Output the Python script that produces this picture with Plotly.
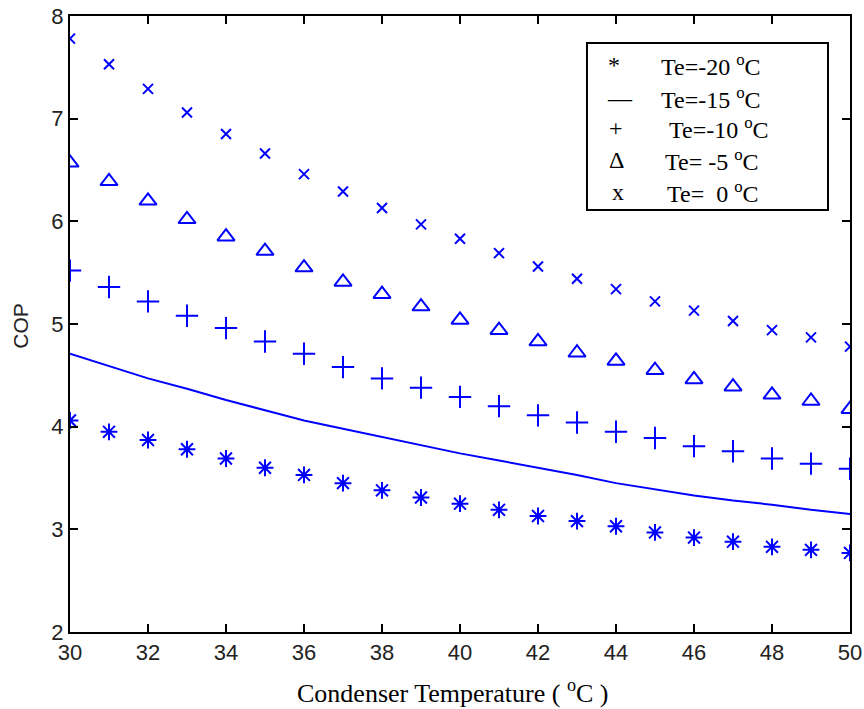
import plotly.graph_objects as go

# Condenser temperature (x)
tc = list(range(30, 51))

# COP per evaporator temperature
cop_m20 = [4.06, 3.95, 3.87, 3.78, 3.69, 3.60, 3.53, 3.45, 3.38, 3.31, 3.25,
           3.19, 3.13, 3.08, 3.03, 2.97, 2.92, 2.88, 2.83, 2.80, 2.77]
cop_m15 = [4.71, 4.59, 4.47, 4.37, 4.26, 4.16, 4.06, 3.98, 3.90, 3.82, 3.74,
           3.67, 3.60, 3.53, 3.45, 3.39, 3.33, 3.28, 3.24, 3.19, 3.15]
cop_m10 = [5.52, 5.36, 5.22, 5.08, 4.96, 4.83, 4.71, 4.58, 4.47, 4.38, 4.29,
           4.20, 4.11, 4.04, 3.95, 3.89, 3.81, 3.76, 3.69, 3.64, 3.59]
cop_m5 = [6.57, 6.39, 6.20, 6.02, 5.85, 5.71, 5.55, 5.41, 5.29, 5.17, 5.04,
          4.94, 4.83, 4.72, 4.64, 4.55, 4.46, 4.39, 4.31, 4.25, 4.17]
cop_0 = [7.78, 7.53, 7.29, 7.06, 6.85, 6.66, 6.46, 6.29, 6.13, 5.97, 5.83,
         5.69, 5.56, 5.44, 5.34, 5.22, 5.13, 5.03, 4.94, 4.87, 4.78]

legend_symbols = ["*", "\u2014", "+", "\u0394", "x"]
legend_labels = ["Te=-20 <sup>o</sup>C", "Te=-15 <sup>o</sup>C", "Te=-10 <sup>o</sup>C",
                 "Te= -5 <sup>o</sup>C", "Te=\u00a0 0 <sup>o</sup>C"]

x_ticks = list(range(30, 51, 2))
y_ticks = list(range(2, 9))

BLUE = "#0000FF"
fig = go.Figure()
fig.add_trace(go.Scatter(x=tc, y=cop_m20, mode="markers",
                         marker=dict(symbol="asterisk-open", size=14, color=BLUE,
                                     line=dict(color=BLUE, width=2))))
fig.add_trace(go.Scatter(x=tc, y=cop_m15, mode="lines", line=dict(color=BLUE, width=2)))
fig.add_trace(go.Scatter(x=tc, y=cop_m10, mode="markers",
                         marker=dict(symbol="cross-thin-open", size=16, color=BLUE,
                                     line=dict(color=BLUE, width=2))))
fig.add_trace(go.Scatter(x=tc, y=cop_m5, mode="markers",
                         marker=dict(symbol="triangle-up-open", size=15, color=BLUE,
                                     line=dict(color=BLUE, width=2))))
fig.add_trace(go.Scatter(x=tc, y=cop_0, mode="markers",
                         marker=dict(symbol="x-thin-open", size=10, color=BLUE,
                                     line=dict(color=BLUE, width=2))))

axis_common = dict(showline=True, linecolor="black", linewidth=2, mirror="ticks",
                   ticks="inside", ticklen=8, tickwidth=2, tickcolor="black",
                   showgrid=False, zeroline=False, automargin=False,
                   ticklabeloverflow="allow",
                   tickfont=dict(family="Liberation Sans, Arial", size=22, color="#222222"))

fig.update_layout(
    width=864, height=709,
    margin=dict(l=70, r=14, t=16, b=77),
    paper_bgcolor="white", plot_bgcolor="white",
    showlegend=False,
    xaxis=dict(range=[30, 50], tickvals=x_ticks, **axis_common),
    yaxis=dict(range=[2, 8], tickvals=y_ticks, **axis_common),
)

# Axis titles
fig.add_annotation(xref="paper", yref="paper", x=0.491, y=-0.096, yanchor="middle",
                   text="Condenser Temperature ( <sup>o</sup>C )", showarrow=False,
                   font=dict(family="Liberation Serif, Times New Roman", size=26, color="black"))
fig.add_annotation(xref="paper", yref="paper", x=-0.063, y=0.497, textangle=-90,
                   xanchor="center", yanchor="middle", text="COP", showarrow=False,
                   font=dict(family="Liberation Sans, Arial", size=21, color="#222222"))

# Text legend box
fig.add_shape(type="rect", xref="paper", yref="paper", x0=0.6628, x1=0.9718, y0=0.685, y1=0.956,
              line=dict(color="black", width=2), fillcolor="white", layer="above")
row_y = [0.920, 0.867, 0.818, 0.766, 0.714]
sym_x = [0.697, 0.705, 0.700, 0.700, 0.703]
lab_x = [0.755, 0.755, 0.765, 0.760, 0.763]
for i in range(5):
    fig.add_annotation(xref="paper", yref="paper", x=sym_x[i], y=row_y[i], xanchor="center",
                       yanchor="middle", text=legend_symbols[i], showarrow=False,
                       font=dict(family="Liberation Serif, Times New Roman", size=24, color="black"))
    fig.add_annotation(xref="paper", yref="paper", x=lab_x[i], y=row_y[i], xanchor="left",
                       yanchor="middle", text=legend_labels[i], showarrow=False,
                       font=dict(family="Liberation Serif, Times New Roman", size=24, color="black"))

# remove the default page margin so the 864x709 figure fills the window exactly
fig.write_html("out.html", config={"displayModeBar": False},
               post_script="document.body.style.margin='0';")
